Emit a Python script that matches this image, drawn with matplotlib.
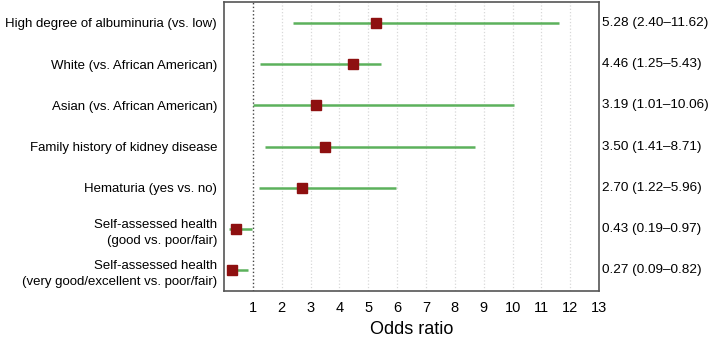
import numpy as np
import matplotlib.pyplot as plt

plt.rcParams['font.family'] = ['Liberation Sans', 'DejaVu Sans']

etiquetas = ["High degree of albuminuria (vs. low)",
             "White (vs. African American)",
             "Asian (vs. African American)",
             "Family history of kidney disease",
             "Hematuria (yes vs. no)",
             "Self-assessed health\n(good vs. poor/fair)",
             "Self-assessed health\n(very good/excellent vs. poor/fair)"]
odds = [5.28, 4.46, 3.19, 3.50, 2.70, 0.43, 0.27]
ic_bajo = [2.40, 1.25, 1.01, 1.41, 1.22, 0.19, 0.09]
ic_alto = [11.62, 5.43, 10.06, 8.71, 5.96, 0.97, 0.82]
marcas_x = np.arange(1, 14)

fig = plt.figure(figsize=(7.12, 3.41), dpi=100)
ax = fig.add_axes([0.3146, 0.1466, 0.527, 0.847])

n = len(odds)
y = np.arange(n)[::-1] + 1

for xi in marcas_x[1:]:
    ax.axvline(xi, color='#d8d8d8', linestyle=':', linewidth=0.9, zorder=0)
ax.axvline(1, color='#444444', linestyle=':', linewidth=1.0, zorder=1)

ax.hlines(y, ic_bajo, ic_alto, color='#5cb15c', linewidth=1.8, zorder=2)
ax.plot(odds, y, 's', color='#8e1010', markersize=6.5, zorder=3)

ax.set_xlim(0, 12.98)
ax.set_ylim(0.5, n + 0.5)
ax.set_xticks(marcas_x)
ax.set_yticks(y)
ax.set_yticklabels(etiquetas, fontsize=9.5, ha='right', linespacing=1.45)
ax.tick_params(axis='y', length=0, pad=5)
ax.tick_params(axis='x', length=0, labelsize=10.5, pad=7.5)

for yi, o, b, a in zip(y, odds, ic_bajo, ic_alto):
    ax.text(1.007, yi, f"{o:.2f} ({b:.2f}\u2013{a:.2f})", transform=ax.get_yaxis_transform(),
            va='center', ha='left', fontsize=9.7)

for s in ax.spines.values():
    s.set_color('#555555')
    s.set_linewidth(1.2)

ax.set_xlabel('Odds ratio', fontsize=13, labelpad=4)

fig.savefig('out.png', dpi=100)
